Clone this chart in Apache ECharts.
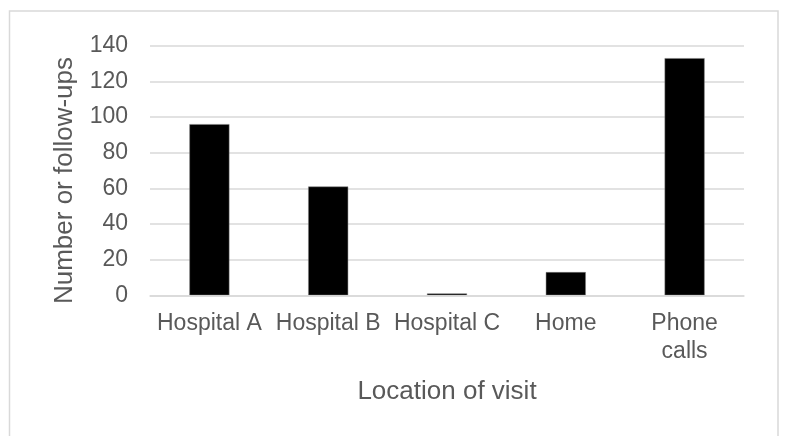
<!DOCTYPE html>
<html>
<head>
<meta charset="utf-8">
<script src="https://cdn.jsdelivr.net/npm/echarts@6/dist/echarts.min.js"></script>
<style>
html,body{margin:0;padding:0;background:#fff;}
#chart{width:785px;height:436px;}
</style>
</head>
<body>
<div id="chart"></div>
<script>
var categories = ['Hospital A', 'Hospital B', 'Hospital C', 'Home', 'Phone\ncalls'];
var followUps = [96, 61, 1, 13, 133];
var yTicks = {min: 0, max: 140, interval: 20};
var xTitle = 'Location of visit';
var yTitle = 'Number or follow-ups';

var chart = echarts.init(document.getElementById('chart'), null, {renderer: 'canvas'});
var font = 'Liberation Sans, Arial, sans-serif';
chart.setOption({
  animation: false,
  backgroundColor: '#ffffff',
  graphic: [{
    type: 'rect',
    shape: {x: 9.5, y: 11, width: 768.5, height: 440},
    style: {fill: 'none', stroke: '#d9d9d9', lineWidth: 1.5},
    z: -1
  }],
  grid: {left: 150, right: 41, top: 45.7, bottom: 140.7},
  xAxis: {
    type: 'category',
    data: categories,
    z: 3,
    name: xTitle,
    nameLocation: 'middle',
    nameGap: 84,
    nameTextStyle: {fontFamily: font, fontSize: 26, color: '#595959'},
    axisLine: {show: true, lineStyle: {color: '#d9d9d9', width: 1.5}},
    axisTick: {show: false},
    axisLabel: {fontFamily: font, fontSize: 23, color: '#595959', margin: 14, lineHeight: 28, interval: 0}
  },
  yAxis: {
    type: 'value',
    min: yTicks.min,
    max: yTicks.max,
    interval: yTicks.interval,
    name: yTitle,
    nameLocation: 'middle',
    nameGap: 72,
    nameTextStyle: {fontFamily: font, fontSize: 26, color: '#595959', padding: [0, 20, 0, 0]},
    axisLine: {show: false},
    axisTick: {show: false},
    axisLabel: {fontFamily: font, fontSize: 23, color: '#595959', margin: 22},
    splitLine: {lineStyle: {color: '#d9d9d9', width: 1.5}}
  },
  series: [{
    type: 'bar',
    data: followUps,
    barWidth: 40,
    itemStyle: {color: '#000000', borderColor: '#7f7f7f', borderWidth: 0.5}
  }]
});
</script>
</body>
</html>
